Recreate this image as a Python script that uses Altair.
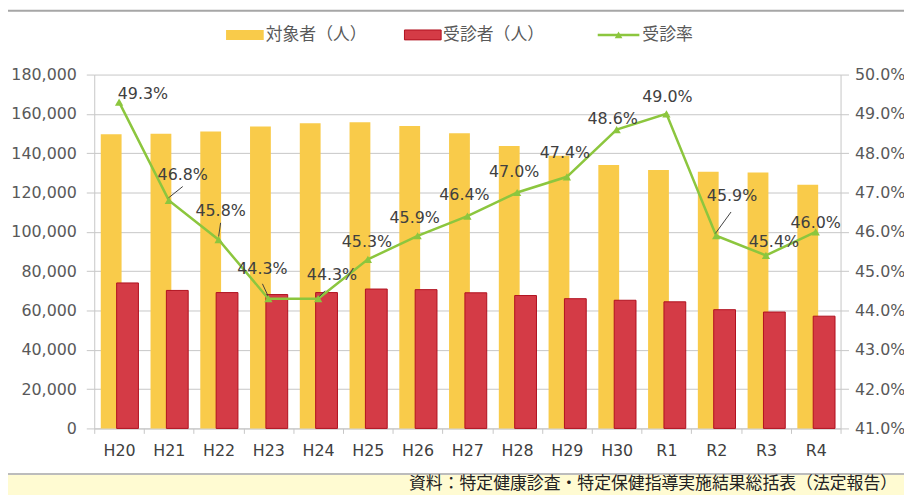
import altair as alt
import pandas as pd

# ---------------- data ----------------
categories = ["H20", "H21", "H22", "H23", "H24", "H25", "H26", "H27",
              "H28", "H29", "H30", "R1", "R2", "R3", "R4"]
target = [149700, 149900, 151100, 153600, 155300, 155800, 153800, 150200,
          143700, 138700, 134000, 131400, 130600, 130200, 124000]
examinee = [74000, 70200, 69100, 68100, 69100, 70900, 70600, 69000,
            67600, 66000, 65200, 64400, 60400, 59200, 57100]
rate = [0.493, 0.468, 0.458, 0.443, 0.443, 0.453, 0.459, 0.464,
        0.470, 0.474, 0.486, 0.490, 0.459, 0.454, 0.460]
rate_labels = ["49.3%", "46.8%", "45.8%", "44.3%", "44.3%", "45.3%", "45.9%", "46.4%",
               "47.0%", "47.4%", "48.6%", "49.0%", "45.9%", "45.4%", "46.0%"]
left_ticks = list(range(0, 180001, 20000))
right_ticks = [round(0.41 + 0.01 * i, 2) for i in range(10)]
legend_names = ["対象者（人）", "受診者（人）", "受診率"]
source_note = "資料：特定健康診査・特定保健指導実施結果総括表（法定報告）"

# ---------------- style ----------------
W, H = 753, 357
NUM_FONT = "DejaVu Sans"
JP_FONT = "Noto Sans CJK JP"
YELLOW = "#F9CB4A"
RED = "#D43B46"
RED_EDGE = "#B0101E"
GREEN = "#8CC63E"
GRID = "#C6C6C6"
TXT = "#404040"
AXTXT = "#595959"

# label offsets (dx, dy) in pixels relative to each point
LABEL_OFFSETS = [(24, -8), (14, -26), (2, -29), (-6, -30), (14, -24), (-1, -17),
                 (-3, -18), (-3, -21), (-3, -21), (-2, -24), (-4, -11), (1, -17),
                 (16, -40), (8, -14), (0, -9)]
# leader lines: category -> (x1, y1, x2, y2) pixel offsets from the point
LEADERS = {"H21": (-1, -2, 14, -14), "H22": (0, -3, 2, -17),
           "H23": (0, -2, -6, -15), "H24": (1, -2, 7, -8),
           "R2": (-1, -2, 15, -24)}

df = pd.DataFrame({"cat": categories, "target": target, "examinee": examinee,
                   "rate": rate, "label": rate_labels})

xenc = alt.X("cat:N", sort=categories,
             scale=alt.Scale(type="band", paddingInner=0, paddingOuter=0),
             axis=alt.Axis(title=None, tickBand="extent", labelFont=NUM_FONT,
                           labelFontSize=16, labelColor=TXT, tickColor=GRID,
                           domainColor=GRID, tickSize=5, labelPadding=9,
                           grid=False, labelAngle=0))

left_axis = alt.Axis(title=None, values=left_ticks, format=",.0f", grid=True,
                     gridColor=GRID, tickColor=GRID, tickSize=8, domainColor=GRID,
                     labelFont=NUM_FONT, labelFontSize=16, labelColor=AXTXT,
                     labelPadding=10)
left_scale = alt.Scale(domain=[0, 180000], nice=False)

bars_t = alt.Chart(df).mark_bar(width=21, xOffset=-8, color=YELLOW).encode(
    x=xenc, y=alt.Y("target:Q", scale=left_scale, axis=left_axis))
bars_e = alt.Chart(df).mark_bar(width=22, xOffset=8.5, color=RED, stroke=RED_EDGE,
                                strokeWidth=1).encode(
    x=xenc, y=alt.Y("examinee:Q", scale=left_scale, axis=left_axis))
left = alt.layer(bars_t, bars_e)

right_axis = alt.Axis(title=None, orient="right", values=right_ticks, format=".1%",
                      grid=False, tickColor=GRID, tickSize=8, domainColor=GRID,
                      labelFont=NUM_FONT, labelFontSize=16, labelColor=AXTXT,
                      labelPadding=6)
right_scale = alt.Scale(domain=[0.41, 0.50], nice=False)
yr = alt.Y("rate:Q", scale=right_scale, axis=right_axis)

line = alt.Chart(df).mark_line(color=GREEN, strokeWidth=2.5).encode(x=xenc, y=yr)
pts = alt.Chart(df).mark_point(shape="triangle-up", filled=True, color=GREEN,
                               size=70, opacity=1).encode(x=xenc, y=yr)

right_layers = [line]
for cat, (x1, y1, x2, y2) in LEADERS.items():
    right_layers.append(
        alt.Chart(df).transform_filter(alt.datum.cat == cat).mark_rule(
            color=TXT, strokeWidth=1, xOffset=x1, yOffset=y1,
            x2Offset=x2, y2Offset=y2).encode(
            x=xenc, x2=alt.X2("cat"), y=yr, y2=alt.Y2("rate")))
right_layers.append(pts)
for cat, (dx, dy) in zip(categories, LABEL_OFFSETS):
    right_layers.append(
        alt.Chart(df).transform_filter(alt.datum.cat == cat).mark_text(
            dx=dx, dy=dy, font=NUM_FONT, fontSize=16, color=TXT).encode(
            x=xenc, y=yr, text="label:N"))
right = alt.layer(*right_layers)

# ---------------- decoration (frame, legend, source) ----------------
one = alt.Data(values=[{"k": 0}])
bottom_band = alt.Chart(one).mark_rect(color="#FFFBD2").encode(
    x=alt.value(-100), x2=alt.value(830), y=alt.value(404), y2=alt.value(440))
bottom_line = alt.Chart(one).mark_rule(color="#A6A6A6", strokeWidth=1.5).encode(
    x=alt.value(-100), x2=alt.value(830), y=alt.value(403))
top_line = alt.Chart(one).mark_rule(color="#A6A6A6", strokeWidth=2).encode(
    x=alt.value(-100), x2=alt.value(830), y=alt.value(-64.5))
source = alt.Chart(one).mark_text(align="right", baseline="middle", font=JP_FONT,
                                  fontSize=17, color="#222222").encode(
    x=alt.value(810), y=alt.value(413), text=alt.value(source_note))

LY = -40
leg_y_sw = alt.Chart(one).mark_rect(color=YELLOW).encode(
    x=alt.value(133), x2=alt.value(171), y=alt.value(LY - 5), y2=alt.value(LY + 5))
leg_r_sw = alt.Chart(one).mark_rect(color=RED, stroke=RED_EDGE, strokeWidth=1).encode(
    x=alt.value(313), x2=alt.value(350), y=alt.value(LY - 5), y2=alt.value(LY + 5))
leg_line = alt.Chart(one).mark_rule(color=GREEN, strokeWidth=2.5).encode(
    x=alt.value(508), x2=alt.value(550), y=alt.value(LY))
leg_tri = alt.Chart(one).mark_point(shape="triangle-up", filled=True, color=GREEN,
                                    size=60, opacity=1).encode(
    x=alt.value(529), y=alt.value(LY))
leg_texts = []
for xpos, name in zip([173, 352, 553], legend_names):
    leg_texts.append(alt.Chart(one).mark_text(
        align="left", baseline="middle", font=JP_FONT, fontSize=17, color=AXTXT).encode(
        x=alt.value(xpos), y=alt.value(LY), text=alt.value(name)))

chart = alt.layer(
    bottom_band, bottom_line, top_line, source,
    left, right,
    leg_y_sw, leg_r_sw, leg_line, leg_tri, *leg_texts,
).resolve_scale(y="independent").properties(
    width=W, height=H,
    padding={"left": 87, "top": 65, "right": 64, "bottom": 65},
    autosize=alt.AutoSizeParams(type="none"),
    background="white",
).configure_view(stroke=None)

chart.save("out.html", embed_options={"renderer": "svg", "actions": False})
